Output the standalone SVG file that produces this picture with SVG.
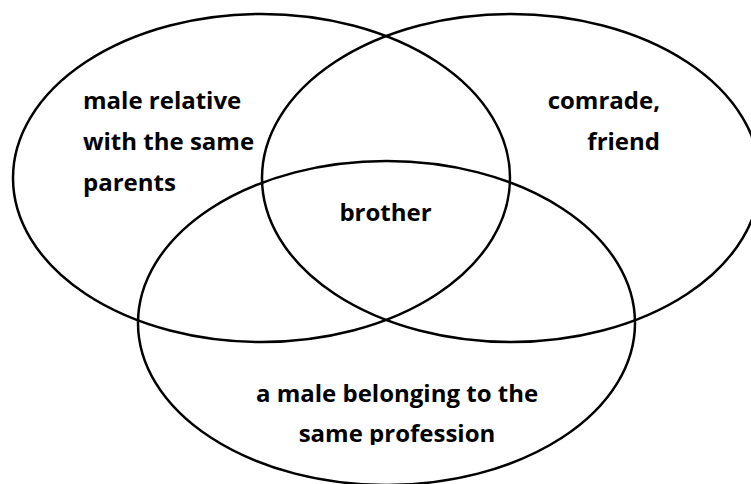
<svg xmlns="http://www.w3.org/2000/svg" width="751" height="484" viewBox="0 0 751 484">
<style>
.set{fill:none;stroke:#000;stroke-width:2.5}
.lbl{font-family:"Open Sans","Liberation Sans",sans-serif;font-weight:700;font-size:24px;fill:#000}
</style>
<defs>
<clipPath id="clipBottom"><rect x="0" y="0" width="751" height="445"/></clipPath>
</defs>
<rect width="751" height="484" fill="#fff"/>
<g id="set-relative">
<ellipse class="set" cx="261.5" cy="178" rx="248.5" ry="164"/>
<text class="lbl" x="83" y="109">male relative</text>
<text class="lbl" x="83" y="150">with the same</text>
<text class="lbl" x="83" y="191">parents</text>
</g>
<g id="set-friend">
<ellipse class="set" cx="511" cy="178" rx="249" ry="164"/>
<text class="lbl" x="660" y="109" text-anchor="end">comrade,</text>
<text class="lbl" x="660" y="150" text-anchor="end">friend</text>
</g>
<g id="set-profession">
<ellipse class="set" cx="386.5" cy="323" rx="248.5" ry="162"/>
<text class="lbl" x="397" y="402" text-anchor="middle">a male belonging to the</text>
<text class="lbl" x="397" y="442" text-anchor="middle" clip-path="url(#clipBottom)">same profession</text>
</g>
<g id="intersection">
<text class="lbl" x="385.5" y="221" text-anchor="middle">brother</text>
</g>
<g id="connectors"/>
</svg>
